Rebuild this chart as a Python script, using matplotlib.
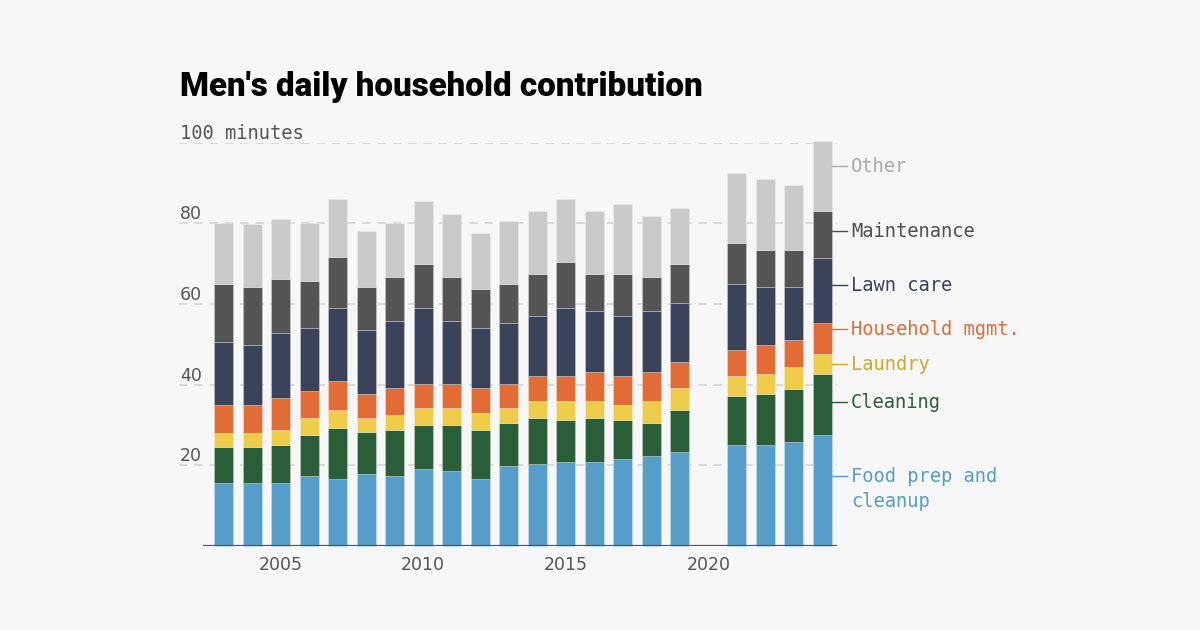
import matplotlib
matplotlib.use("Agg")
import matplotlib.pyplot as plt
import numpy as np

# ---- data (minutes per day) ----
years = [2003, 2004, 2005, 2006, 2007, 2008, 2009, 2010, 2011, 2012, 2013,
         2014, 2015, 2016, 2017, 2018, 2019, 2021, 2022, 2023, 2024]
food_prep = [15.5, 15.5, 15.5, 17.3, 16.7, 17.9, 17.3, 19.1, 18.5, 16.7, 19.8,
             20.3, 20.9, 20.9, 21.5, 22.2, 23.3, 25.1, 25.1, 25.7, 27.6]
cleaning = [9.0, 9.0, 9.6, 10.3, 12.6, 10.3, 11.4, 10.9, 11.5, 12.0, 10.7,
            11.5, 10.3, 10.9, 9.7, 8.3, 10.3, 12.1, 12.7, 13.3, 15.1]
laundry = [3.6, 3.6, 3.6, 4.2, 4.3, 3.6, 3.7, 4.2, 4.2, 4.3, 3.7,
           4.2, 4.8, 4.2, 3.7, 5.5, 5.5, 4.9, 4.9, 5.5, 4.8]
household_mgmt = [6.8, 6.8, 7.9, 6.6, 7.2, 6.0, 6.7, 6.0, 6.0, 6.1, 6.0,
                  6.1, 6.1, 7.2, 7.2, 7.2, 6.5, 6.6, 7.2, 6.6, 7.9]
lawn_care = [15.6, 15.0, 16.3, 15.7, 18.1, 15.7, 16.8, 18.7, 15.7, 15.0, 15.2,
             15.0, 16.8, 15.1, 15.0, 15.1, 14.6, 16.2, 14.4, 13.2, 16.1]
maintenance = [14.4, 14.4, 13.2, 11.5, 12.7, 10.8, 10.8, 10.9, 10.8, 9.6, 9.5,
               10.3, 11.5, 9.1, 10.3, 8.4, 9.6, 10.2, 9.1, 9.1, 11.5]
other = [15.3, 15.6, 15.1, 14.6, 14.5, 13.9, 13.5, 15.7, 15.7, 13.9, 15.8,
         15.7, 15.7, 15.7, 17.5, 15.2, 13.9, 17.5, 17.5, 16.2, 17.4]

series_names = ["Food prep and\ncleanup", "Cleaning", "Laundry", "Household mgmt.",
                "Lawn care", "Maintenance", "Other"]
series_values = [food_prep, cleaning, laundry, household_mgmt, lawn_care, maintenance, other]
bar_colors = ["#569dca", "#2a5e38", "#efcd4a", "#e26c35", "#3a4359", "#545454", "#cacaca"]
label_colors = ["#569dca", "#2a5e38", "#cfa92c", "#e26c35", "#3a4359", "#4f4f4f", "#a9a9a9"]
label_y = [17.35, 35.7, 45.05, 53.7, 64.7, 78.1, 94.2]

y_ticks = [20, 40, 60, 80, 100]
x_ticks = [2005, 2010, 2015, 2020]

BG = "#f7f7f7"
fig = plt.figure(figsize=(12, 6.3), dpi=100, facecolor=BG)
W, H = 1200, 630
left_px, right_px, top_px, bot_px = 179, 837, 142.7, 546
ax = fig.add_axes([left_px / W, 1 - bot_px / H, (right_px - left_px) / W, (bot_px - top_px) / H])
ax.set_facecolor(BG)
ax.set_xlim(2001.44, 2024.51)
ax.set_ylim(0, 100)
for s in ax.spines.values():
    s.set_visible(False)
ax.set_xticks([])
ax.set_yticks([])

# gridlines
for v in y_ticks:
    ax.axhline(v, color="#d0d0d0", lw=1.1, dashes=(5.5, 4.5), zorder=0)
    if v == 100:
        ax.text(0.0015, v + 1.0, "100 minutes", transform=ax.get_yaxis_transform(),
                ha="left", va="baseline", fontsize=13.5, family="DejaVu Sans Mono",
                color="#555555")
    else:
        ax.text(0.0015, v + 1.0, f"{v}", transform=ax.get_yaxis_transform(),
                ha="left", va="baseline", fontsize=12.5, family="DejaVu Sans",
                color="#555555")

# bars
bottom = np.zeros(len(years))
for vals, col in zip(series_values, bar_colors):
    vals = np.array(vals)
    ax.bar(years, vals, bottom=bottom, width=0.667, color=col,
           edgecolor=(1, 1, 1, 0.3), linewidth=0.6, zorder=2, clip_on=False)
    bottom += vals

# baseline
base_start = (203 - left_px) / (right_px - left_px)
ax.axhline(0, xmin=base_start, xmax=1, color="#555555", lw=1.6, zorder=3,
           solid_capstyle="butt")

# x labels
for xt in x_ticks:
    ax.text(xt, -2.6, str(xt), ha="center", va="top", fontsize=12.5,
            family="DejaVu Sans", color="#555555", clip_on=False)

# series labels with leader lines
bar_right = years[-1] + 0.3335
for name, col, ly in zip(series_names, label_colors, label_y):
    ax.plot([bar_right, 2024.86], [ly, ly], color=col, lw=1.0, clip_on=False, zorder=3)
    for i, ln in enumerate(name.split("\n")):
        ax.text(2025.0, ly - i * 6.2, ln, ha="left", va="center", fontsize=13.5,
                family="DejaVu Sans Mono", color=col, clip_on=False)

# title, fitted to target width
title = fig.text(180 / W, 1 - 96 / H, "Men's daily household contribution",
                 ha="left", va="baseline", fontsize=22, fontweight=900,
                 family=["Roboto", "DejaVu Sans"], color="#000000")
fig.canvas.draw()
bb = title.get_window_extent(fig.canvas.get_renderer())
title.set_fontsize(22 * 522 / bb.width)

fig.savefig("out.png", dpi=100, facecolor=BG)
